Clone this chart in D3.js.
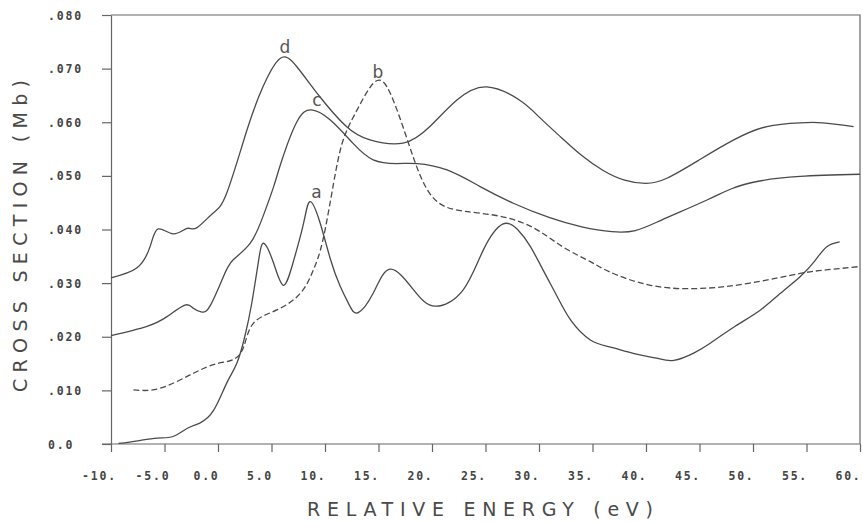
<!DOCTYPE html>
<html>
<head>
<meta charset="utf-8">
<script src="https://cdn.jsdelivr.net/npm/d3@7"></script>
<style>
	body{margin:0;background:#fff}
	svg{display:block;background:#fff}
	.tick text{font-family:"DejaVu Sans Mono",monospace;font-size:11.5px;font-weight:bold;fill:#444;letter-spacing:1.8px}
	.axis path,.axis line,.frame{stroke:#666;stroke-width:1.2;fill:none}
	.title{font-family:"DejaVu Sans",sans-serif;font-size:19px;fill:#4a4a4a}
	.curve{fill:none;stroke:#4a4a4a;stroke-width:1.3}
	.name{font-family:"DejaVu Sans",sans-serif;font-size:17px;fill:#555;text-anchor:middle}
</style>
</head>
<body>
<svg id="chart" width="863" height="522"></svg>
<script>

// tick values and labels, as printed on the plot
const xTicks = [-10, -5, 0, 5, 10, 15, 20, 25, 30, 35, 40, 45, 50, 55, 60]
const xTickLabels = ["-10.", "-5.0", "0.0", "5.0", "10.", "15.", "20.", "25.", "30.", "35.", "40.", "45.", "50.", "55.", "60."]
const yTicks = [0, 0.01, 0.02, 0.03, 0.04, 0.05, 0.06, 0.07, 0.08]
const yTickLabels = ["0.0", ".010", ".020", ".030", ".040", ".050", ".060", ".070", ".080"]

// curve a (solid, lowest)
const energyA = [-9.3, -7.5, -5.7, -4.2, -2.9, -1.7, -0.4, 0.8, 1.75, 2.5, 3.15, 3.8, 4.3, 5.2, 6.1, 7.0, 8.0, 8.6, 9.5, 10.5, 11.4, 12.3, 13.1, 14.5, 16.1, 18.3, 20.3, 22.9, 24.8, 26.6, 28.0, 29.2, 30.5, 31.7, 33.0, 34.8, 36.6, 39.0, 41.0, 42.6, 44.5, 46.0, 48.3, 50.7, 52.5, 54.4, 55.8, 56.9, 58.1]
const sigmaA = [0.0001, 0.0006, 0.0011, 0.0014, 0.0029, 0.0039, 0.0063, 0.0113, 0.0150, 0.0200, 0.0262, 0.0343, 0.0374, 0.0337, 0.0296, 0.0337, 0.0412, 0.0452, 0.0415, 0.0345, 0.0295, 0.0258, 0.0245, 0.0281, 0.0326, 0.0287, 0.0257, 0.0287, 0.0362, 0.0410, 0.0400, 0.0368, 0.0320, 0.0275, 0.0230, 0.0194, 0.0181, 0.0168, 0.0160, 0.0156, 0.0170, 0.0188, 0.0219, 0.0250, 0.0280, 0.0312, 0.0342, 0.0368, 0.0377]

// curve b (dashed)
const energyB = [-7.9, -5.4, -2.3, -0.1, 1.4, 2.4, 3.3, 5.5, 7.7, 8.9, 9.8, 10.8, 11.7, 13.0, 14.7, 16.1, 17.6, 19.0, 20.6, 23.0, 26.3, 29.5, 32.2, 34.8, 36.6, 40.4, 45.0, 49.7, 54.4, 57.0, 60.0]
const sigmaB = [0.0101, 0.0104, 0.0132, 0.0150, 0.0157, 0.0181, 0.0225, 0.0250, 0.0281, 0.0324, 0.0380, 0.0486, 0.0567, 0.0623, 0.0676, 0.0654, 0.0573, 0.0496, 0.0450, 0.0434, 0.0425, 0.0403, 0.0368, 0.0340, 0.0321, 0.0296, 0.0290, 0.0300, 0.0318, 0.0325, 0.0331]

// curve c (solid, middle)
const energyC = [-10, -6.7, -4.8, -3.1, -2.3, -1.5, -0.7, 0.5, 1.4, 3.0, 4.2, 5.2, 5.9, 7.35, 8.75, 10.5, 12.6, 14.5, 16.7, 18.6, 21.4, 24.5, 27.6, 31.0, 34.0, 36.8, 39.0, 41.5, 45.7, 48.0, 50.5, 54.4, 60.0]
const sigmaC = [0.0202, 0.0219, 0.0237, 0.0259, 0.0253, 0.0246, 0.0259, 0.0312, 0.0343, 0.0374, 0.0424, 0.0480, 0.0525, 0.0600, 0.0623, 0.0604, 0.0561, 0.0530, 0.0523, 0.0523, 0.0511, 0.0480, 0.0449, 0.0422, 0.0405, 0.0396, 0.0398, 0.0418, 0.0455, 0.0476, 0.0490, 0.0499, 0.0503]

// curve d (solid, top)
const energyD = [-10, -7.6, -6.35, -5.6, -4.2, -2.9, -2.0, -0.5, 0.8, 2.7, 4.2, 5.8, 7.35, 9.5, 12.0, 14.2, 17.3, 19.8, 22.3, 25.1, 28.2, 30.0, 32.0, 34.0, 36.0, 38.0, 40.0, 42.0, 45.0, 48.2, 51.3, 54.4, 56.5, 59.4]
const sigmaD = [0.0310, 0.0328, 0.0368, 0.0401, 0.0392, 0.0402, 0.0403, 0.0430, 0.0467, 0.0585, 0.0666, 0.0719, 0.0704, 0.0648, 0.0592, 0.0567, 0.0561, 0.0592, 0.0641, 0.0666, 0.0641, 0.0610, 0.0573, 0.0538, 0.0510, 0.0492, 0.0486, 0.0496, 0.0530, 0.0567, 0.0592, 0.0599, 0.0599, 0.0592]

// curve names and where they are written (energy, cross section)
const curveNames = ["a", "b", "c", "d"]
const nameEnergy = [9.2, 14.95, 9.25, 6.26]
const nameSigma = [0.0459, 0.0682, 0.0630, 0.0729]

let svg = d3.select("#chart")

let x = d3.scaleLinear().domain([-10, 60]).range([111, 860])
let y = d3.scaleLinear().domain([0, 0.08]).range([444, 15])

// frame: top and right border
svg.append("path")
	.attr("class", "frame")
	.attr("d", "M" + x(-10) + "," + y(0.08) + "H" + x(60) + "V" + y(0))

// y axis
let yaxis = d3.axisLeft(y)
	.tickValues(yTicks)
	.tickFormat((d, i) => yTickLabels[i])
	.tickSize(9)
	.tickSizeOuter(0)

let gy = svg.append("g")
	.attr("class", "axis")
	.attr("transform", "translate(" + x(-10) + ",0)")
	.call(yaxis)

gy.selectAll(".tick text")
	.attr("text-anchor", "start")
	.attr("x", 48 - x(-10))
	.attr("dy", "0.35em")

// x axis
let xaxis = d3.axisBottom(x)
	.tickValues(xTicks)
	.tickFormat((d, i) => xTickLabels[i])
	.tickSize(8)
	.tickSizeOuter(0)

let gx = svg.append("g")
	.attr("class", "axis")
	.attr("transform", "translate(0," + y(0) + ")")
	.call(xaxis)

gx.select(".domain").attr("d", "M" + (x(-10) - 9) + ",0H" + x(60))

gx.selectAll(".tick text")
	.attr("x", -12)
	.attr("y", 36)
	.attr("dy", "0")

// titles
svg.append("text")
	.attr("class", "title")
	.attr("x", 480)
	.attr("y", 516)
	.attr("text-anchor", "middle")
	.attr("textLength", 346)
	.attr("lengthAdjust", "spacing")
	.text("RELATIVE ENERGY (eV)")

svg.append("text")
	.attr("class", "title")
	.attr("transform", "translate(27,236) rotate(-90)")
	.attr("text-anchor", "middle")
	.attr("textLength", 312)
	.attr("lengthAdjust", "spacing")
	.text("CROSS SECTION (Mb)")

// curves
let line = d3.line()
	.x(d => x(d[0]))
	.y(d => y(d[1]))
	.curve(d3.curveNatural)

let series = [
	{e: energyA, s: sigmaA, dash: null},
	{e: energyB, s: sigmaB, dash: "6,3"},
	{e: energyC, s: sigmaC, dash: null},
	{e: energyD, s: sigmaD, dash: null}
]

series.forEach(c => {
	svg.append("path")
		.attr("class", "curve")
		.attr("stroke-dasharray", c.dash)
		.attr("d", line(d3.zip(c.e, c.s)))
})

svg.selectAll("text.name")
	.data(curveNames)
	.enter()
	.append("text")
		.attr("class", "name")
		.attr("x", (d, i) => x(nameEnergy[i]))
		.attr("y", (d, i) => y(nameSigma[i]))
		.text(d => d)

</script>
</body>
</html>
